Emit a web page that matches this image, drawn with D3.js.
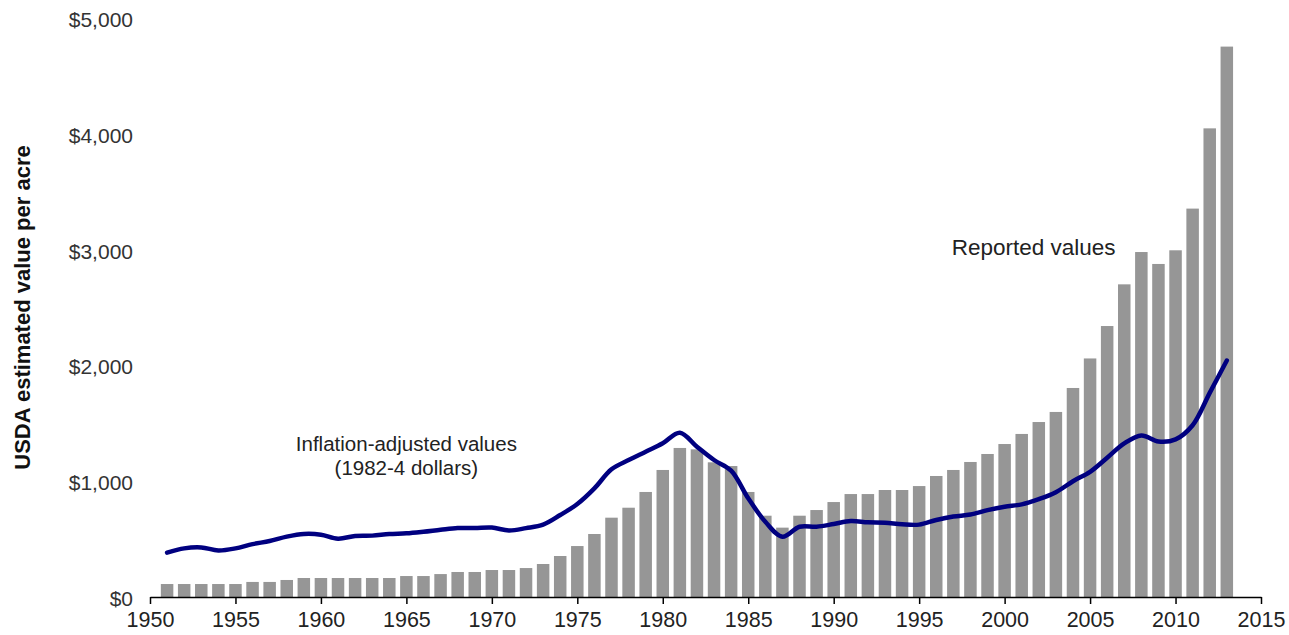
<!DOCTYPE html>
<html>
<head>
<meta charset="utf-8">
<script src="https://cdn.jsdelivr.net/npm/d3@7"></script>
<style>
  body { margin: 0; background: #fff; }
  svg text { font-family: 'Liberation Sans', Arial, sans-serif; }
</style>
</head>
<body>
<svg class="chart"></svg>
<script>
// years covered by the bars and the line
const years = d3.range(1951, 2014);

// reported (nominal) USDA value per acre
const reported = [
  112, 112, 112, 112, 112, 130, 130, 147, 164, 164,
  164, 164, 164, 164, 181, 181, 198, 216, 216, 233,
  233, 250, 285, 354, 440, 544, 685, 771, 907, 1097,
  1287, 1275, 1163, 1131, 907, 702, 599, 702, 751, 820,
  889, 889, 924, 924, 958, 1045, 1097, 1166, 1235, 1321,
  1408, 1511, 1598, 1805, 2060, 2340, 2700, 2979, 2876, 2994,
  3354, 4047, 4753
];

// inflation-adjusted values (1982-4 dollars)
const adjusted = [
  383, 420, 428, 402, 420, 457, 483, 521, 544, 538,
  504, 527, 530, 544, 550, 564, 581, 596, 596, 600,
  575, 595, 625, 708, 803, 938, 1103, 1183, 1255, 1327,
  1419, 1298, 1183, 1091, 852, 650, 521, 607, 607, 630,
  656, 645, 642, 628, 625, 665, 695, 712, 750, 780,
  800, 845, 905, 1000, 1081, 1203, 1326, 1395, 1343, 1361,
  1483, 1763, 2042
];

const yTicks = [0, 1000, 2000, 3000, 4000, 5000];
const xTicks = d3.range(1950, 2016, 5);

const width = 1289;
const height = 635;
const margin = { top: 18, right: 28, bottom: 38, left: 150 };

const svg = d3.select('.chart').attr('width', width).attr('height', height);

const x = d3.scaleLinear().domain([1950, 2015]).range([margin.left, width - margin.right]);
const y = d3.scaleLinear().domain([0, 5000]).range([height - margin.bottom, margin.top]);

const barW = 12.5;

// bars for reported values
svg.append('g')
  .selectAll('rect')
  .data(years.map((yr, i) => ({ year: yr, value: reported[i] })))
  .enter()
  .append('rect')
  .attr('x', (d) => x(d.year) - barW / 2)
  .attr('y', (d) => y(d.value))
  .attr('width', barW)
  .attr('height', (d) => y(0) - y(d.value))
  .attr('fill', '#969696');

// inflation adjusted line
const line = d3.line()
  .x((d) => x(d.year))
  .y((d) => y(d.value))
  .curve(d3.curveCatmullRom.alpha(0.5));

svg.append('path')
  .datum(years.map((yr, i) => ({ year: yr, value: adjusted[i] })))
  .attr('d', line)
  .attr('fill', 'none')
  .attr('stroke', '#000080')
  .attr('stroke-width', 4.5)
  .attr('stroke-linejoin', 'round')
  .attr('stroke-linecap', 'round');

// x axis
const xAxis = svg.append('g')
  .attr('transform', `translate(0,${y(0)})`)
  .call(d3.axisBottom(x).tickValues(xTicks).tickFormat((d) => d.toString()).tickSize(7).tickSizeOuter(0));
xAxis.select('.domain').attr('stroke', '#000').attr('stroke-width', 1.5);
xAxis.selectAll('.tick line').attr('stroke', '#000').attr('stroke-width', 1.5);
xAxis.selectAll('.tick text')
  .attr('font-size', 21.5)
  .attr('fill', '#222')
  .attr('y', 13)
  .attr('dy', '0.8em')
  .style('font-family', "'Liberation Sans', Arial, sans-serif");

// y axis labels only
const yAxis = svg.append('g')
  .attr('transform', `translate(${margin.left - 17},0)`)
  .call(d3.axisLeft(y).tickValues(yTicks).tickFormat((d) => '$' + d3.format(',')(d)).tickSize(0));
yAxis.select('.domain').remove();
yAxis.selectAll('.tick text')
  .attr('font-size', 21)
  .attr('fill', '#333')
  .attr('x', 0)
  .attr('dy', '0.4em')
  .style('font-family', "'Liberation Sans', Arial, sans-serif");

// y axis title
svg.append('text')
  .attr('transform', `translate(30,${(y(0) + y(5000)) / 2}) rotate(-90)`)
  .attr('text-anchor', 'middle')
  .attr('font-size', 22)
  .attr('font-weight', 'bold')
  .attr('fill', '#111')
  .text('USDA estimated value per acre');

// annotations
svg.append('text')
  .attr('x', x(1965)).attr('y', 451)
  .attr('text-anchor', 'middle')
  .attr('font-size', 20.5)
  .attr('fill', '#222')
  .text('Inflation-adjusted values');
svg.append('text')
  .attr('x', x(1965)).attr('y', 475)
  .attr('text-anchor', 'middle')
  .attr('font-size', 20.5)
  .attr('fill', '#222')
  .text('(1982-4 dollars)');

svg.append('text')
  .attr('x', x(2001.7)).attr('y', 255)
  .attr('text-anchor', 'middle')
  .attr('font-size', 22.5)
  .attr('fill', '#222')
  .text('Reported values');
</script>
</body>
</html>
